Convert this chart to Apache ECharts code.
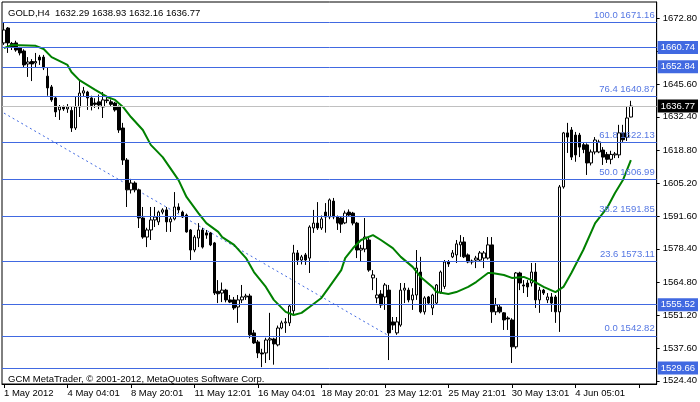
<!DOCTYPE html>
<html><head><meta charset="utf-8">
<script src="https://cdn.jsdelivr.net/npm/echarts@6/dist/echarts.min.js"></script>
<style>html,body{margin:0;padding:0;background:#fff}#c{width:700px;height:402px}</style>
</head><body><div id="c"></div>
<script>
const FONT = "'Liberation Sans', Arial, sans-serif";
const symbolTitle = 'GOLD,H4  1632.29 1638.93 1632.16 1636.77';
const copyright = 'GCM MetaTrader, \u00a9 2001-2012, MetaQuotes Software Corp.';
const xTickLabels = ['1 May 2012','4 May 04:01','8 May 20:01','11 May 12:01','16 May 04:01','18 May 20:01','23 May 12:01','25 May 21:01','30 May 13:01','4 Jun 05:01'];
const yTickValues = [1672.80,1659.20,1645.60,1632.40,1618.80,1605.20,1591.60,1578.40,1564.80,1551.20,1537.60,1524.40];
const totalSlots = 165;

const open = [1662.6,1668.7,1662.4,1662.6,1660.5,1659.3,1654.0,1655.0,1654.4,1656.8,1656.8,1649.0,1644.6,1640.1,1635.2,1636.4,1635.6,1635.0,1627.8,1636.4,1642.1,1642.5,1640.1,1638.0,1638.5,1636.4,1639.3,1638.5,1638.0,1636.4,1627.8,1614.7,1602.5,1605.3,1602.5,1591.0,1583.2,1586.1,1590.2,1589.4,1593.4,1594.3,1589.4,1590.6,1595.5,1593.4,1592.2,1586.1,1577.9,1582.8,1586.1,1584.9,1584.9,1580.8,1561.0,1560.3,1561.5,1557.5,1557.5,1554.6,1557.5,1558.7,1559.1,1544.0,1540.3,1535.8,1535.8,1541.1,1541.5,1539.1,1546.0,1548.1,1548.1,1553.0,1576.7,1573.8,1575.9,1574.6,1586.9,1588.9,1586.9,1593.4,1591.4,1597.9,1591.4,1591.0,1589.0,1593.4,1593.0,1588.9,1577.9,1578.3,1582.0,1566.5,1558.3,1559.9,1558.7,1561.5,1548.5,1544.0,1547.2,1561.5,1561.5,1557.5,1559.5,1568.9,1552.6,1558.7,1554.2,1556.2,1560.7,1563.0,1573.0,1575.1,1575.9,1580.0,1581.2,1575.9,1573.0,1573.8,1573.8,1574.6,1574.6,1580.0,1552.6,1554.6,1552.2,1550.1,1549.3,1538.3,1568.5,1563.6,1564.4,1564.4,1568.9,1557.5,1561.5,1557.5,1558.7,1558.7,1552.6,1603.7,1625.8,1627.0,1624.9,1624.9,1621.0,1620.9,1613.5,1618.0,1618.0,1618.8,1617.0,1615.0,1616.8,1616.8,1625.8,1624.0,1632.29];
const close = [1667.9,1662.6,1661.0,1659.7,1658.5,1653.6,1654.8,1654.0,1655.0,1655.6,1652.4,1644.2,1639.3,1634.4,1636.4,1635.6,1636.4,1627.8,1636.4,1642.1,1643.0,1640.1,1637.0,1637.5,1637.2,1639.3,1639.0,1637.5,1635.2,1627.0,1614.7,1602.5,1605.3,1602.5,1591.0,1583.2,1586.1,1590.2,1591.4,1593.4,1594.3,1589.4,1590.6,1595.5,1594.3,1591.4,1585.3,1577.9,1583.2,1586.1,1579.1,1584.0,1580.0,1560.3,1560.0,1561.5,1557.5,1556.6,1554.2,1557.5,1558.7,1559.1,1543.2,1539.9,1535.8,1535.4,1541.1,1541.6,1539.5,1546.0,1548.1,1548.5,1555.0,1576.7,1573.8,1575.1,1573.8,1587.3,1588.9,1586.9,1590.6,1591.4,1598.4,1591.4,1588.9,1588.5,1593.0,1592.2,1588.9,1577.9,1578.6,1583.2,1569.7,1567.7,1559.5,1555.4,1563.6,1544.0,1547.2,1548.5,1561.5,1562.3,1557.5,1559.5,1570.5,1552.6,1558.3,1556.2,1559.5,1563.6,1568.9,1573.0,1572.2,1576.7,1580.4,1581.2,1575.1,1573.0,1573.4,1574.6,1576.7,1576.7,1580.0,1552.6,1555.4,1552.6,1549.3,1549.7,1538.3,1568.5,1564.4,1563.2,1562.8,1568.9,1557.5,1561.5,1560.3,1558.7,1556.2,1552.6,1603.7,1625.8,1624.1,1615.9,1616.8,1620.0,1619.0,1613.5,1618.0,1622.9,1622.1,1615.9,1615.0,1617.0,1617.2,1625.8,1623.0,1631.9,1636.77];
const low = [1661.8,1658.5,1659.7,1659.0,1657.5,1652.4,1648.7,1647.0,1652.4,1653.6,1651.5,1641.0,1638.5,1632.3,1631.1,1634.8,1634.0,1626.2,1627.0,1632.3,1640.5,1635.2,1635.0,1636.0,1635.5,1631.9,1638.0,1636.5,1634.5,1625.8,1612.7,1595.5,1601.0,1601.5,1586.9,1582.5,1579.1,1582.0,1587.3,1588.1,1592.5,1585.3,1585.3,1590.0,1593.0,1591.0,1585.0,1573.8,1577.0,1579.1,1578.5,1582.5,1579.5,1559.5,1556.2,1556.6,1556.5,1556.2,1553.4,1548.1,1556.2,1557.5,1541.8,1539.5,1533.7,1530.0,1531.7,1532.9,1531.0,1538.5,1545.5,1544.0,1546.8,1551.3,1571.8,1572.0,1571.8,1568.5,1584.9,1586.1,1586.1,1585.0,1590.5,1590.5,1586.1,1584.9,1588.5,1591.5,1588.0,1574.6,1573.0,1577.0,1569.0,1561.5,1556.2,1554.2,1553.4,1532.9,1545.2,1543.2,1546.5,1556.2,1556.5,1553.4,1557.5,1552.0,1551.5,1555.5,1551.3,1555.5,1560.0,1562.0,1571.0,1574.6,1572.6,1575.1,1574.6,1572.5,1572.0,1570.5,1573.0,1570.5,1574.0,1548.1,1551.3,1552.0,1545.2,1545.2,1531.7,1537.5,1561.5,1560.3,1558.7,1563.0,1554.2,1552.2,1559.5,1556.2,1552.6,1548.1,1544.4,1603.0,1617.6,1614.7,1614.0,1615.9,1617.5,1608.6,1612.5,1617.0,1617.5,1612.7,1613.5,1613.0,1615.5,1615.5,1622.1,1622.5,1632.16];
const high = [1671.16,1669.1,1663.0,1663.5,1661.0,1660.0,1656.8,1656.0,1658.5,1657.7,1657.7,1652.4,1645.4,1640.5,1637.2,1637.0,1637.6,1636.8,1640.5,1647.4,1644.6,1643.0,1641.0,1640.0,1641.5,1642.5,1641.0,1639.5,1638.5,1637.0,1629.9,1615.5,1607.0,1606.0,1603.0,1595.5,1587.0,1595.5,1595.5,1594.0,1595.0,1595.5,1591.5,1601.6,1597.0,1594.0,1592.8,1586.5,1584.0,1588.9,1587.0,1586.1,1585.3,1581.2,1565.6,1564.6,1562.0,1559.5,1558.7,1559.5,1563.6,1560.0,1560.0,1545.2,1541.1,1537.5,1542.0,1552.2,1542.0,1547.0,1549.0,1550.1,1555.4,1580.0,1577.9,1575.9,1576.7,1588.0,1594.3,1597.5,1592.0,1597.1,1599.0,1599.2,1592.0,1591.5,1594.0,1594.5,1593.5,1589.4,1580.0,1591.0,1583.0,1569.7,1566.5,1561.5,1564.4,1563.6,1550.5,1550.5,1564.4,1564.4,1562.5,1562.3,1577.9,1575.1,1559.0,1559.1,1560.0,1564.0,1569.5,1573.8,1573.8,1577.9,1582.0,1584.0,1583.2,1576.5,1574.0,1575.5,1577.5,1577.5,1583.2,1583.2,1558.3,1555.5,1552.5,1550.8,1550.0,1568.9,1569.0,1565.6,1565.6,1572.6,1572.6,1562.8,1562.0,1560.3,1560.3,1559.5,1604.5,1626.2,1629.9,1628.2,1626.2,1625.8,1622.0,1621.5,1619.0,1624.1,1623.0,1620.0,1618.0,1618.5,1618.0,1629.1,1629.1,1636.4,1638.93];

// moving average at these bar positions
const maBar = [0,2,8,10,12,16,17,19,23,26,28,30,32,35,37,40,44,46,49,51,54,55,58,61,63,66,68,71,73,75,77,80,82,85,86,88,90,93,95,98,100,103,105,108,109,112,114,117,119,122,123,126,128,131,133,136,139,141,143,146,149,152,154,156,158];
const maValue = [1660.5,1661.8,1661.4,1660.1,1656.8,1653.6,1650.7,1647.4,1643.4,1640.5,1639.3,1636.4,1632.3,1627.0,1620.9,1615.9,1606.5,1599.6,1593.0,1588.9,1585.3,1583.2,1580.0,1574.6,1568.9,1562.8,1557.5,1552.6,1551.3,1552.2,1554.6,1558.3,1562.8,1569.7,1574.6,1578.7,1582.0,1584.0,1582.0,1578.7,1575.1,1571.0,1566.9,1562.8,1560.7,1559.9,1560.7,1562.8,1564.8,1568.5,1568.5,1567.7,1566.5,1566.9,1565.6,1562.8,1560.7,1562.8,1568.5,1577.9,1588.9,1595.1,1601.2,1606.5,1614.7];

const fibLevel = ['100.0','76.4','61.8','50.0','38.2','23.6','0.0'];
const fibPrice = [1671.16,1640.87,1622.13,1606.99,1591.85,1573.11,1542.82];
const hLinePrice = [1660.74,1652.84,1555.52,1529.66];
const bidPrice = 1636.77;
const fibTrendBar = [0, 97];
const fibTrendPrice = [1633.9, 1542.82];

const cats = [];
for (let i = 0; i < totalSlots; i++) cats.push(String(i));
const candles = open.map((o, i) => [o, close[i], low[i], high[i]]);

const maData = new Array(totalSlots).fill(null);
maBar.forEach((b, k) => { maData[b] = maValue[k]; });
const trendData = new Array(totalSlots).fill(null);
fibTrendBar.forEach((b, k) => { trendData[b] = fibTrendPrice[k]; });

const BLUE = '#4169E1';
const boxLabel = (bg) => ({ show: true, position: 'end', distance: 1, formatter: (p) => p.value.toFixed(2),
  color: '#fff', backgroundColor: bg, padding: [2, 3, 1, 3], fontFamily: FONT, fontSize: 9.5 });

const markData = [];
fibPrice.forEach((p, k) => markData.push({ yAxis: p, lineStyle: { color: BLUE, width: 1, type: 'solid' },
  label: { show: true, position: 'insideEndTop', distance: [2, 2], formatter: fibLevel[k] + ' ' + p.toFixed(2),
    color: '#5577e3', fontFamily: FONT, fontSize: 9.5 } }));
hLinePrice.forEach((p) => markData.push({ yAxis: p, lineStyle: { color: BLUE, width: 1, type: 'solid' }, label: boxLabel(BLUE) }));
markData.push({ yAxis: bidPrice, lineStyle: { color: '#c0c0c0', width: 1, type: 'solid' }, label: boxLabel('#000') });

const chart = echarts.init(document.getElementById('c'), null, { renderer: 'canvas' });
chart.setOption({
  animation: false,
  backgroundColor: '#fff',
  textStyle: { fontFamily: FONT },
  title: [
    { text: symbolTitle, left: 3, top: 3, textStyle: { fontFamily: FONT, fontSize: 9.5, fontWeight: 'normal', color: '#000' } },
    { text: copyright, left: 3, top: 369, textStyle: { fontFamily: FONT, fontSize: 9.5, fontWeight: 'normal', color: '#000' } }
  ],
  grid: { left: 2, top: 2, right: 39, bottom: 18, show: true, borderColor: '#000', borderWidth: 1, backgroundColor: '#fff' },
  xAxis: {
    type: 'category', data: cats, boundaryGap: true,
    axisLine: { lineStyle: { color: '#000', width: 1 } },
    axisTick: { show: true, interval: (i) => i % 16 === 0, alignWithLabel: true, length: 4, lineStyle: { color: '#000' } },
    axisLabel: { interval: (i) => i % 16 === 0, formatter: (v, i) => (i % 16 === 0 && xTickLabels[i / 16]) ? xTickLabels[i / 16] : '',
      align: 'left', margin: 4, color: '#000', fontFamily: FONT, fontSize: 9.5 },
    splitLine: { show: false }
  },
  yAxis: {
    type: 'value', position: 'right', min: 1523.1, max: 1679.34, scale: true,
    axisLine: { show: true, lineStyle: { color: '#000', width: 1 } },
    axisTick: { show: true, customValues: yTickValues, length: 3, lineStyle: { color: '#000' } },
    axisLabel: { customValues: yTickValues, formatter: (v) => v.toFixed(2), margin: 6, color: '#000', fontFamily: FONT, fontSize: 9.5 },
    splitLine: { show: false }
  },
  series: [
    { type: 'line', data: new Array(totalSlots).fill(null), z: 1, silent: true, symbol: 'none',
      markLine: { silent: true, symbol: ['none', 'none'], animation: false, data: markData } },
    { type: 'line', data: trendData, connectNulls: true, symbol: 'none', z: 2, silent: true,
      lineStyle: { color: BLUE, width: 1, type: [2, 3] } },
    { type: 'candlestick', data: candles, barWidth: 3, z: 3, silent: true,
      itemStyle: { color: '#fff', color0: '#000', borderColor: '#000', borderColor0: '#000', borderWidth: 1 } },
    { type: 'line', data: maData, connectNulls: true, symbol: 'none', z: 4, silent: true,
      lineStyle: { color: '#008000', width: 2 } }
  ]
});
</script></body></html>
